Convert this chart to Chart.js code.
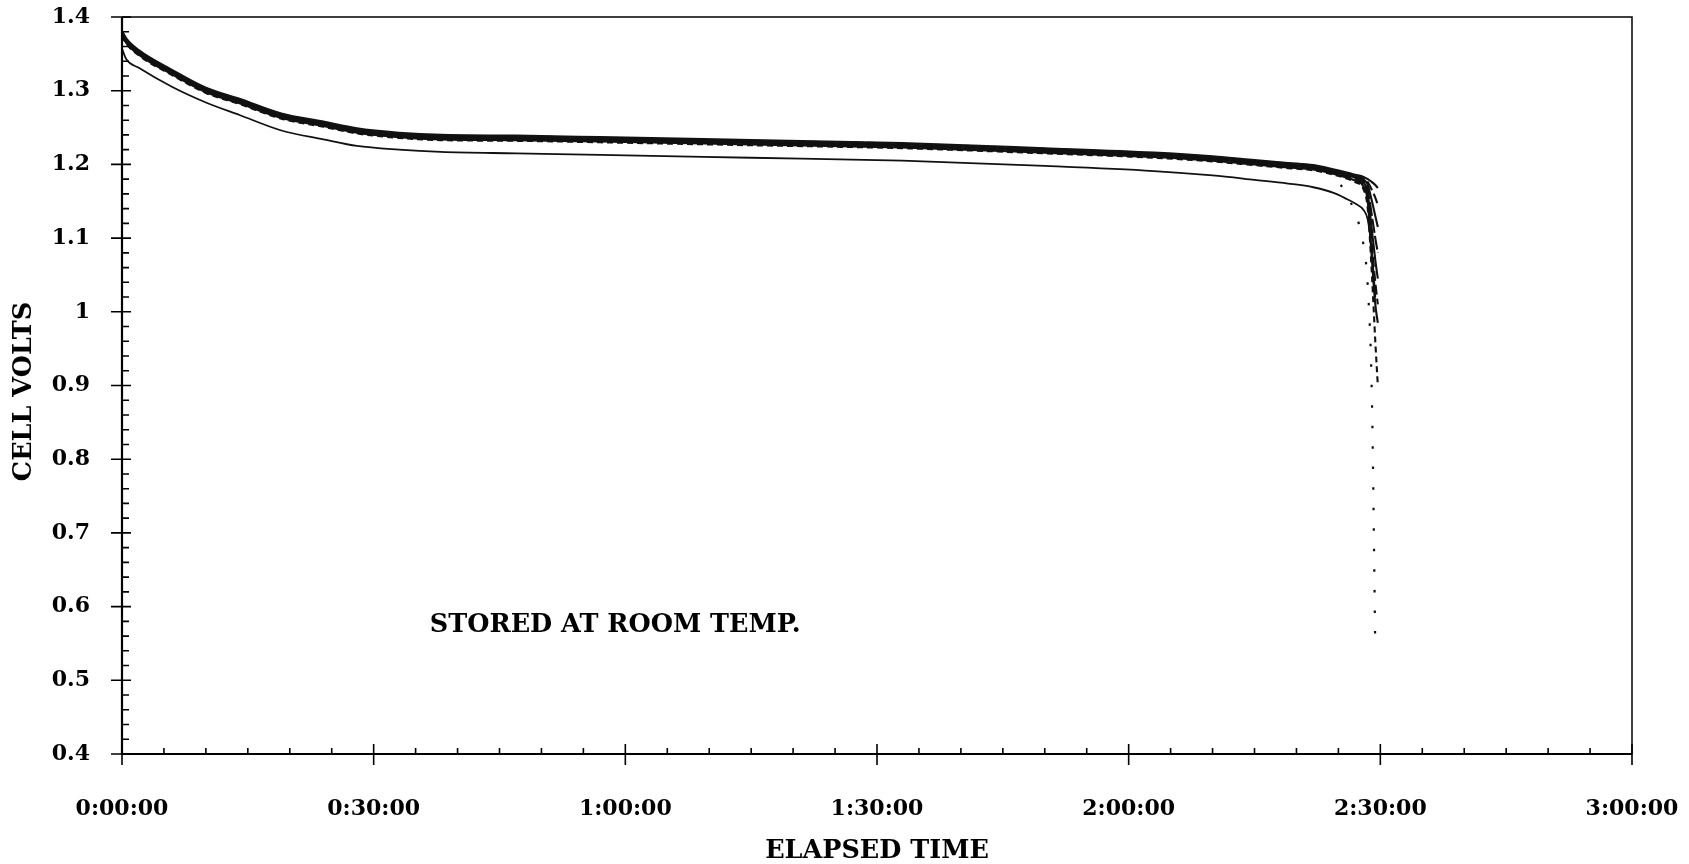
<!DOCTYPE html>
<html lang="en">
<head>
    <meta charset="UTF-8">
    <title>Cell Volts vs Elapsed Time</title>
    <script src="https://cdn.jsdelivr.net/npm/chart.js"></script>
    <style>
        html, body { margin: 0; padding: 0; background: #fff; }
        canvas { display: block; }
    </style>
</head>
<body>
    <canvas id="dischargeChart" width="1689" height="864"></canvas>

    <script>
    // elapsed time in minutes (shared by every trace, null = trace has ended)
    const minutes = [0, 0.5, 2, 6, 10, 14, 19, 24, 28, 33, 38, 47, 57, 75, 93, 110,
                     123, 130, 135, 139, 142, 144.5, 146, 147, 148, 148.5, 149, 149.4, 149.7];

    // the dense bundle of cells
    const cell1 = [1.381, 1.371, 1.355, 1.328, 1.304, 1.289, 1.269, 1.258, 1.249, 1.243, 1.240, 1.239, 1.237, 1.233, 1.229, 1.222,
                   1.216, 1.211, 1.206, 1.202, 1.199, 1.193, 1.189, 1.186, 1.183, 1.180, 1.176, 1.172, 1.168];
    const cell2 = [1.380, 1.370, 1.354, 1.327, 1.303, 1.288, 1.268, 1.257, 1.248, 1.242, 1.239, 1.238, 1.236, 1.232, 1.228, 1.221,
                   1.215, 1.210, 1.205, 1.201, 1.198, 1.192, 1.188, 1.185, 1.182, 1.176, 1.165, 1.155, 1.145];
    const cell3 = [1.379, 1.369, 1.353, 1.326, 1.302, 1.287, 1.267, 1.256, 1.247, 1.241, 1.238, 1.237, 1.235, 1.231, 1.227, 1.220,
                   1.214, 1.209, 1.204, 1.200, 1.197, 1.191, 1.187, 1.184, 1.180, 1.172, 1.150, 1.130, 1.115];
    const cell4 = [1.378, 1.368, 1.352, 1.325, 1.301, 1.286, 1.266, 1.255, 1.246, 1.240, 1.237, 1.236, 1.234, 1.230, 1.226, 1.219,
                   1.213, 1.208, 1.203, 1.199, 1.196, 1.190, 1.186, 1.183, 1.178, 1.165, 1.130, 1.100, 1.080];
    const cell5 = [1.377, 1.367, 1.351, 1.324, 1.300, 1.285, 1.265, 1.254, 1.245, 1.239, 1.236, 1.235, 1.233, 1.229, 1.225, 1.218,
                   1.212, 1.207, 1.202, 1.198, 1.195, 1.189, 1.185, 1.182, 1.176, 1.160, 1.110, 1.070, 1.045];
    const cell6 = [1.376, 1.366, 1.350, 1.323, 1.299, 1.284, 1.264, 1.253, 1.244, 1.238, 1.235, 1.234, 1.232, 1.228, 1.224, 1.217,
                   1.211, 1.206, 1.201, 1.197, 1.194, 1.188, 1.184, 1.180, 1.173, 1.155, 1.090, 1.040, 1.010];
    const cell7 = [1.375, 1.365, 1.349, 1.322, 1.298, 1.283, 1.263, 1.252, 1.243, 1.237, 1.234, 1.233, 1.231, 1.227, 1.223, 1.216,
                   1.210, 1.205, 1.200, 1.196, 1.193, 1.187, 1.182, 1.178, 1.170, 1.150, 1.070, 1.010, 0.985];
    const cell8 = [1.374, 1.364, 1.348, 1.321, 1.297, 1.282, 1.262, 1.251, 1.242, 1.236, 1.233, 1.232, 1.230, 1.226, 1.222, 1.215,
                   1.209, 1.204, 1.199, 1.195, 1.192, 1.186, 1.181, 1.176, 1.166, 1.140, 1.050, 0.960, 0.900];
    // the weaker cell running below the bundle
    const cellLow = [1.357, 1.343, 1.331, 1.305, 1.284, 1.267, 1.246, 1.234, 1.225, 1.220, 1.217, 1.215, 1.213, 1.209, 1.205, 1.198,
                     1.191, 1.185, 1.179, 1.174, 1.169, 1.161, 1.153, 1.147, 1.138, 1.125, 1.080, 1.020, null];
    // dotted trace that falls away to ~0.54 V
    const cellDotted = [1.377, 1.367, 1.351, 1.324, 1.300, 1.285, 1.265, 1.254, 1.245, 1.239, 1.236, 1.235, 1.233, 1.229, 1.225, 1.218,
                        1.212, 1.207, 1.202, 1.198, 1.194, 1.184, 1.158, 1.134, 1.090, 1.035, 0.880, 0.540, null];

    const timeTicks = ['0:00:00', '0:30:00', '1:00:00', '1:30:00', '2:00:00', '2:30:00', '3:00:00'];
    const voltTicks = ['0.4', '0.5', '0.6', '0.7', '0.8', '0.9', '1', '1.1', '1.2', '1.3', '1.4'];
    const xTitle = 'ELAPSED TIME';
    const yTitle = 'CELL VOLTS';
    const noteText = 'STORED AT ROOM TEMP.';
    const noteAt = [36.7, 0.575];

    const SERIF = '"DejaVu Serif", "Liberation Serif", serif';
    const CAPTION_FONT = 'bold 25.5px ' + SERIF;

    function pts(vals) {
        return minutes.map((t, i) => ({x: t, y: vals[i]}));
    }

    function trace(vals, dash, width) {
        return {
            data: pts(vals),
            borderColor: '#111',
            borderWidth: width || 2.1,
            borderDash: dash || [],
            pointRadius: 0,
            fill: false,
            spanGaps: false,
            cubicInterpolationMode: 'monotone'
        };
    }

    // axis frame + major/minor ticks, drawn from the chart's own scales
    const framePlugin = {
        id: 'frame',
        afterDraw(chart) {
            const {ctx, chartArea: a, scales: {x, y}} = chart;
            ctx.save();
            ctx.strokeStyle = '#000';
            ctx.lineCap = 'butt';
            ctx.lineWidth = 1.5;
            ctx.beginPath();
            ctx.moveTo(a.left, a.top);
            ctx.lineTo(a.right, a.top);
            ctx.lineTo(a.right, a.bottom);
            ctx.stroke();
            ctx.lineWidth = 2.2;
            ctx.beginPath();
            ctx.moveTo(a.left, a.top);
            ctx.lineTo(a.left, a.bottom);
            ctx.lineTo(a.right, a.bottom);
            ctx.stroke();

            ctx.lineWidth = 1.6;
            ctx.beginPath();
            for (let m = 0; m <= 180; m += 5) {
                const px = x.getPixelForValue(m);
                if (m % 30 === 0) {
                    ctx.moveTo(px, a.bottom - 10);
                    ctx.lineTo(px, a.bottom + 11);
                } else {
                    ctx.moveTo(px, a.bottom);
                    ctx.lineTo(px, a.bottom - 6);
                }
            }
            for (let k = 0; k <= 50; k++) {
                const py = y.getPixelForValue(0.4 + k * 0.02);
                if (k % 5 === 0) {
                    ctx.moveTo(a.left - 11, py);
                    ctx.lineTo(a.left + 9, py);
                } else {
                    ctx.moveTo(a.left, py);
                    ctx.lineTo(a.left + 7, py);
                }
            }
            ctx.stroke();
            ctx.restore();
        }
    };

    // axis titles and the in-plot note
    const captionPlugin = {
        id: 'captions',
        afterDatasetsDraw(chart) {
            const {ctx, chartArea: a, scales: {x, y}} = chart;
            ctx.save();
            ctx.font = CAPTION_FONT;
            ctx.fillStyle = '#000';
            ctx.textBaseline = 'middle';

            ctx.textAlign = 'left';
            ctx.fillText(noteText, x.getPixelForValue(noteAt[0]), y.getPixelForValue(noteAt[1]));

            ctx.textAlign = 'center';
            ctx.fillText(xTitle, (a.left + a.right) / 2, chart.height - 13);

            ctx.translate(24, (a.top + a.bottom) / 2 + 6);
            ctx.rotate(-Math.PI / 2);
            ctx.fillText(yTitle, 0, 0);
            ctx.restore();
        }
    };

    Chart.defaults.font.family = SERIF;
    Chart.defaults.color = '#000';

    // invisible tick marks are used only to push the labels away from the axes
    const hiddenGrid = (len) => ({
        display: true,
        drawOnChartArea: false,
        drawTicks: true,
        tickLength: len,
        color: 'rgba(0,0,0,0)'
    });

    new Chart(document.getElementById('dischargeChart'), {
        type: 'line',
        data: {
            datasets: [
                trace(cell1),
                trace(cell2, [10, 4]),
                trace(cell3),
                trace(cell4, [14, 3]),
                trace(cell5),
                trace(cell6, [10, 4]),
                trace(cell7),
                trace(cell8, [6, 4]),
                trace(cellLow, [], 1.8),
                trace(cellDotted, [2.5, 18], 2.2)
            ]
        },
        options: {
            responsive: false,
            animation: false,
            devicePixelRatio: 1,
            layout: { padding: { left: 0, top: 17, right: 57, bottom: 0 } },
            plugins: { legend: { display: false }, tooltip: { enabled: false } },
            scales: {
                x: {
                    type: 'linear',
                    min: 0,
                    max: 180,
                    grid: hiddenGrid(42),
                    border: { display: false },
                    ticks: {
                        stepSize: 30,
                        autoSkip: false,
                        maxRotation: 0,
                        padding: 0,
                        font: { size: 22, weight: 'bold' },
                        callback: (v, i) => timeTicks[i]
                    },
                    afterFit: (s) => { s.height = 110; }
                },
                y: {
                    min: 0.4,
                    max: 1.4,
                    grid: hiddenGrid(32),
                    border: { display: false },
                    ticks: {
                        stepSize: 0.1,
                        padding: 0,
                        font: { size: 22, weight: 'bold' },
                        callback: (v, i) => voltTicks[i]
                    },
                    afterFit: (s) => { s.width = 122; }
                }
            }
        },
        plugins: [captionPlugin, framePlugin]
    });
    </script>
</body>
</html>
